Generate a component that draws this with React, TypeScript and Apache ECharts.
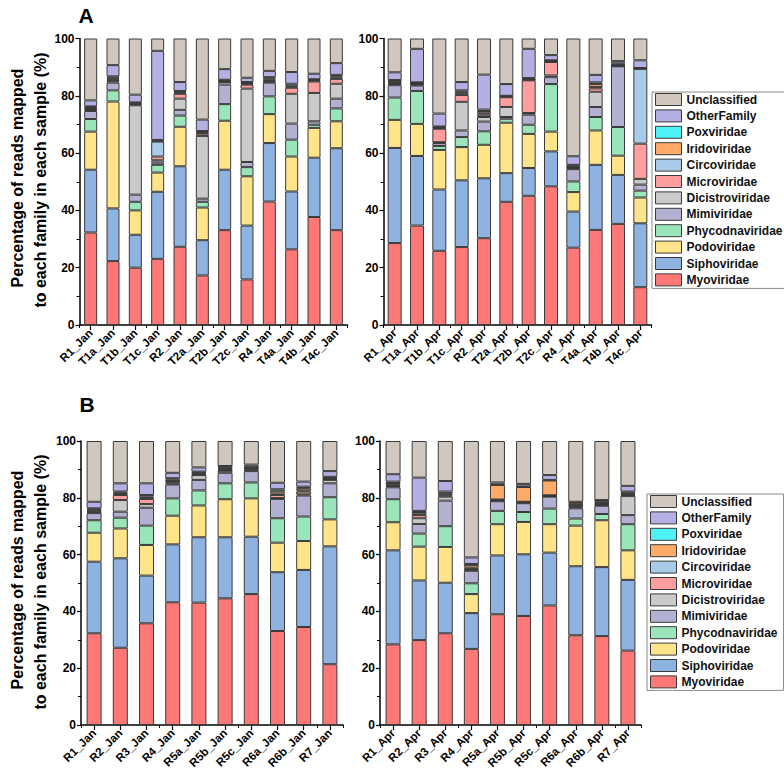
import React, { useEffect, useRef } from "react";
import * as echarts from "echarts";

const families = [
  "Myoviridae", "Siphoviridae", "Podoviridae", "Phycodnaviridae", "Mimiviridae",
  "Dicistroviridae", "Microviridae", "Circoviridae", "Iridoviridae", "Poxviridae",
  "OtherFamily", "Unclassified",
];
const familyColors = [
  "#FF7878", "#8EB3E0", "#FFE48A", "#9AE5BA", "#B3B1D1",
  "#CACACA", "#FF9E9E", "#A9CAE8", "#FFAA66", "#4FF3F5",
  "#B5B0E4", "#D0C7BE",
];

const samplesAJan = ["R1_Jan", "T1a_Jan", "T1b_Jan", "T1c_Jan", "R2_Jan", "T2a_Jan", "T2b_Jan", "T2c_Jan", "R4_Jan", "T4a_Jan", "T4b_Jan", "T4c_Jan"];
const samplesAApr = ["R1_Apr", "T1a_Apr", "T1b_Apr", "T1c_Apr", "R2_Apr", "T2a_Apr", "T2b_Apr", "T2c_Apr", "R4_Apr", "T4a_Apr", "T4b_Apr", "T4c_Apr"];
const samplesBJan = ["R1_Jan", "R2_Jan", "R3_Jan", "R4_Jan", "R5a_Jan", "R5b_Jan", "R5c_Jan", "R6a_Jan", "R6b_Jan", "R7_Jan"];
const samplesBApr = ["R1_Apr", "R2_Apr", "R3_Apr", "R4_Apr", "R5a_Apr", "R5b_Apr", "R5c_Apr", "R6a_Apr", "R6b_Apr", "R7_Apr"];

// each row: one sample, values in the order of `families` (%)
const valuesAJan = [
  [32.3, 21.9, 13.3, 4.4, 2.8, 0.4, 0.3, 0.3, 0.3, 0.3, 2.1, 21.6],
  [22.3, 18.4, 37.3, 3.9, 2.7, 0.5, 0.5, 0.4, 0.3, 0.5, 3.9, 9.3],
  [20.0, 11.5, 8.5, 3.0, 2.5, 31.2, 0.3, 0.2, 0.2, 0.3, 2.7, 19.6],
  [23.1, 23.4, 6.7, 2.7, 0.8, 0.8, 1.3, 5.2, 0.3, 0.3, 31.1, 4.3],
  [27.3, 28.1, 13.8, 3.9, 2.0, 3.9, 1.7, 0.4, 0.3, 0.3, 3.1, 15.2],
  [17.3, 12.3, 11.4, 2.0, 1.1, 21.9, 0.8, 0.3, 0.3, 0.3, 4.0, 28.3],
  [33.1, 21.1, 17.1, 5.8, 6.8, 0.9, 0.2, 0.2, 0.2, 0.2, 3.7, 10.7],
  [15.9, 18.8, 17.2, 3.2, 1.8, 25.6, 1.4, 0.3, 0.3, 0.3, 1.5, 13.7],
  [43.1, 20.4, 10.1, 6.2, 4.8, 0.3, 0.3, 0.4, 0.5, 0.4, 2.2, 11.3],
  [26.4, 20.2, 12.2, 5.9, 5.6, 10.4, 2.1, 0.4, 0.3, 0.7, 4.1, 11.7],
  [37.7, 20.7, 10.4, 1.1, 1.2, 9.9, 4.0, 0.3, 0.2, 0.3, 1.9, 12.3],
  [33.1, 28.6, 9.4, 4.5, 3.4, 5.2, 1.7, 0.5, 0.4, 0.5, 4.1, 8.6],
];
const valuesAApr = [
  [28.6, 33.2, 9.8, 7.8, 4.3, 0.4, 0.3, 0.3, 0.5, 0.3, 2.7, 11.8],
  [34.7, 24.3, 11.2, 11.5, 1.9, 0.3, 0.2, 0.2, 0.2, 0.2, 11.7, 3.6],
  [25.9, 21.4, 13.8, 1.4, 1.0, 0.3, 4.7, 0.3, 0.2, 0.3, 4.5, 26.2],
  [27.2, 23.3, 11.6, 3.5, 2.3, 10.0, 2.4, 0.6, 0.5, 0.5, 2.9, 15.2],
  [30.3, 20.9, 11.7, 4.7, 3.4, 1.6, 0.8, 0.5, 0.8, 0.5, 12.2, 12.6],
  [43.0, 10.0, 17.6, 1.4, 0.6, 3.5, 3.4, 0.2, 0.2, 0.1, 4.1, 15.9],
  [45.1, 9.7, 11.9, 3.2, 3.5, 0.6, 11.4, 0.2, 0.2, 0.4, 10.2, 3.6],
  [48.4, 12.2, 6.9, 16.6, 2.4, 0.6, 4.7, 0.2, 0.2, 0.2, 1.8, 5.8],
  [27.0, 12.6, 6.8, 3.7, 4.3, 0.3, 0.2, 0.2, 0.6, 0.2, 3.0, 41.1],
  [33.2, 22.7, 12.0, 4.7, 3.5, 5.3, 1.2, 0.5, 1.0, 0.6, 2.6, 12.7],
  [35.3, 17.1, 6.7, 10.0, 21.2, 0.1, 0.1, 0.3, 0.1, 0.4, 0.8, 7.9],
  [13.2, 22.3, 9.0, 2.4, 2.1, 2.0, 12.3, 26.1, 0.2, 0.1, 2.7, 7.6],
];
const valuesBJan = [
  [32.3, 25.2, 10.2, 4.4, 2.5, 0.3, 0.3, 0.4, 0.3, 0.4, 2.3, 21.4],
  [27.2, 31.5, 10.5, 3.8, 2.1, 4.1, 1.8, 0.4, 0.4, 0.4, 2.9, 14.9],
  [35.8, 16.8, 10.8, 6.8, 6.3, 1.3, 1.8, 0.4, 0.4, 0.6, 4.1, 14.9],
  [43.2, 20.4, 10.1, 6.1, 4.9, 0.3, 0.5, 0.4, 0.6, 0.4, 1.9, 11.2],
  [43.1, 23.0, 11.2, 5.3, 3.7, 1.7, 0.3, 0.3, 0.3, 0.3, 1.5, 9.3],
  [44.6, 21.5, 13.4, 5.6, 3.7, 0.7, 0.3, 0.3, 0.3, 0.3, 0.5, 8.8],
  [46.1, 20.2, 13.5, 5.6, 4.0, 0.5, 0.3, 0.3, 0.2, 0.3, 0.7, 8.3],
  [33.1, 20.7, 10.4, 8.6, 6.8, 0.3, 1.1, 0.5, 0.8, 0.7, 2.3, 14.7],
  [34.5, 20.1, 10.2, 8.6, 7.4, 0.4, 1.0, 0.4, 0.8, 0.5, 1.8, 14.3],
  [21.4, 41.5, 9.5, 7.8, 4.9, 1.2, 0.3, 0.3, 0.2, 0.3, 2.0, 10.6],
];
const valuesBApr = [
  [28.4, 33.1, 9.9, 8.1, 4.2, 0.4, 0.3, 0.3, 0.5, 0.5, 2.6, 11.7],
  [29.9, 21.0, 11.9, 4.6, 3.4, 2.0, 1.1, 0.5, 0.6, 0.4, 11.7, 12.9],
  [32.3, 17.8, 12.6, 7.3, 9.0, 1.4, 0.4, 0.4, 0.4, 0.6, 3.7, 14.1],
  [26.8, 12.6, 6.7, 3.8, 4.4, 0.3, 0.4, 0.4, 0.9, 0.4, 2.3, 41.0],
  [39.0, 20.7, 11.0, 4.7, 3.4, 0.2, 0.2, 0.2, 5.1, 0.2, 0.7, 14.6],
  [38.4, 21.7, 11.4, 3.5, 3.1, 0.2, 0.2, 0.1, 5.2, 0.2, 0.9, 15.1],
  [42.1, 18.6, 10.0, 5.5, 4.2, 0.2, 0.2, 0.1, 5.2, 0.2, 1.7, 12.0],
  [31.6, 24.3, 14.3, 2.5, 3.6, 0.4, 0.5, 0.3, 0.5, 0.3, 0.3, 21.4],
  [31.3, 24.3, 16.5, 2.2, 2.9, 0.3, 0.3, 0.4, 0.5, 0.3, 0.2, 20.8],
  [26.2, 24.9, 10.4, 9.2, 3.2, 6.7, 0.4, 0.4, 0.4, 0.4, 2.0, 15.8],
];

const yTicks = [0, 20, 40, 60, 80, 100];
const titleA = "A";
const titleB = "B";
const yNameLine1 = "Percentage of reads mapped";
const yNameLine2 = "to each family in each sample (%)";

const FONT = "'Liberation Sans', Arial, Helvetica, sans-serif";

const panels = [
  { samples: samplesAJan, values: valuesAJan, grid: { left: 79.5, top: 38.5, width: 268, height: 286.5 }, barWidth: 13 },
  { samples: samplesAApr, values: valuesAApr, grid: { left: 383.5, top: 38.5, width: 268, height: 286.5 }, barWidth: 14 },
  { samples: samplesBJan, values: valuesBJan, grid: { left: 81, top: 441, width: 262, height: 284 }, barWidth: 15 },
  { samples: samplesBApr, values: valuesBApr, grid: { left: 380, top: 441, width: 261, height: 284 }, barWidth: 15 },
];

export default function App() {
  const ref = useRef<HTMLDivElement>(null);
  useEffect(() => {
    if (!ref.current) return;
    const chart = echarts.init(ref.current, undefined, { renderer: "svg" });
    const grids: any[] = [];
    const xAxes: any[] = [];
    const yAxes: any[] = [];
    const series: any[] = [];
    panels.forEach((p, pi) => {
      grids.push({ ...p.grid, containLabel: false });
      xAxes.push({
        type: "category",
        gridIndex: pi,
        data: p.samples,
        position: "bottom",
        axisLine: { show: true, lineStyle: { color: "#000", width: 1.5 } },
        axisTick: { show: true, alignWithLabel: true, length: 5, lineStyle: { color: "#000", width: 1.2 } },
        axisLabel: { interval: 0, rotate: 45, margin: 6, color: "#000", fontWeight: "bold", fontSize: 11.5, fontFamily: FONT },
      });
      xAxes.push({
        type: "category",
        gridIndex: pi,
        data: p.samples,
        position: "bottom",
        axisLine: { show: false },
        axisTick: { show: true, length: 3, lineStyle: { color: "#000", width: 1 } },
        axisLabel: { show: false },
      });
      yAxes.push({
        type: "value",
        gridIndex: pi,
        min: yTicks[0],
        max: yTicks[yTicks.length - 1],
        interval: 20,
        splitLine: { show: false },
        axisLine: { show: true, lineStyle: { color: "#000", width: 1.5 } },
        axisTick: { show: true, length: 4, lineStyle: { color: "#000", width: 1.2 } },
        minorTick: { show: true, splitNumber: 2, length: 3, lineStyle: { color: "#000", width: 1 } },
        axisLabel: { margin: 5, color: "#000", fontWeight: "bold", fontSize: 12, fontFamily: FONT },
      });
      families.forEach((f, fi) => {
        series.push({
          type: "bar",
          name: f,
          stack: "panel" + pi,
          xAxisIndex: pi * 2,
          yAxisIndex: pi,
          barWidth: p.barWidth,
          data: p.values.map((row) => row[fi]),
          itemStyle: { color: familyColors[fi], borderColor: "#3a3a3a", borderWidth: 1 },
          emphasis: { disabled: true },
        });
      });
    });

    const legendData = families.slice().reverse();
    const legendBase = {
      orient: "vertical",
      data: legendData,
      icon: "rect",
      itemWidth: 26,
      itemHeight: 12,
      itemGap: 3.4,
      borderColor: "#8a8a8a",
      borderWidth: 1,
      padding: [1, 2, 2, 3],
      selectedMode: false,
      itemStyle: { borderColor: "#3a3a3a", borderWidth: 1 },
      textStyle: { color: "#111", fontWeight: "bold", fontSize: 12, fontFamily: FONT, lineHeight: 12, width: 100, overflow: "none" },
    };

    const yNameText = (x: number, y: number, text: string) => ({
      type: "text",
      x,
      y,
      rotation: Math.PI / 2,
      style: {
        text,
        font: `bold 16px ${FONT}`,
        fill: "#000",
        textAlign: "center",
        textVerticalAlign: "middle",
        align: "center",
        verticalAlign: "middle",
      },
    });
    const titleText = (x: number, y: number, text: string) => ({
      type: "text",
      x,
      y,
      style: {
        text,
        font: `bold 21px ${FONT}`,
        fill: "#000",
        textAlign: "center",
        textVerticalAlign: "middle",
        align: "center",
        verticalAlign: "middle",
      },
    });

    chart.setOption({
      animation: false,
      backgroundColor: "#fff",
      grid: grids,
      xAxis: xAxes,
      yAxis: yAxes,
      series,
      legend: [
        { ...legendBase, left: 652, top: 92 },
        { ...legendBase, left: 647, top: 494 },
      ],
      graphic: [
        titleText(86, 15, titleA),
        titleText(87, 404, titleB),
        yNameText(17, 178, yNameLine1),
        yNameText(40, 180, yNameLine2),
        yNameText(17, 580, yNameLine1),
        yNameText(40, 582, yNameLine2),
      ],
    });
    return () => chart.dispose();
  }, []);
  return (
    <div
      ref={ref}
      style={{ position: "fixed", left: 0, top: 0, width: 784, height: 777, background: "#fff" }}
    />
  );
}
